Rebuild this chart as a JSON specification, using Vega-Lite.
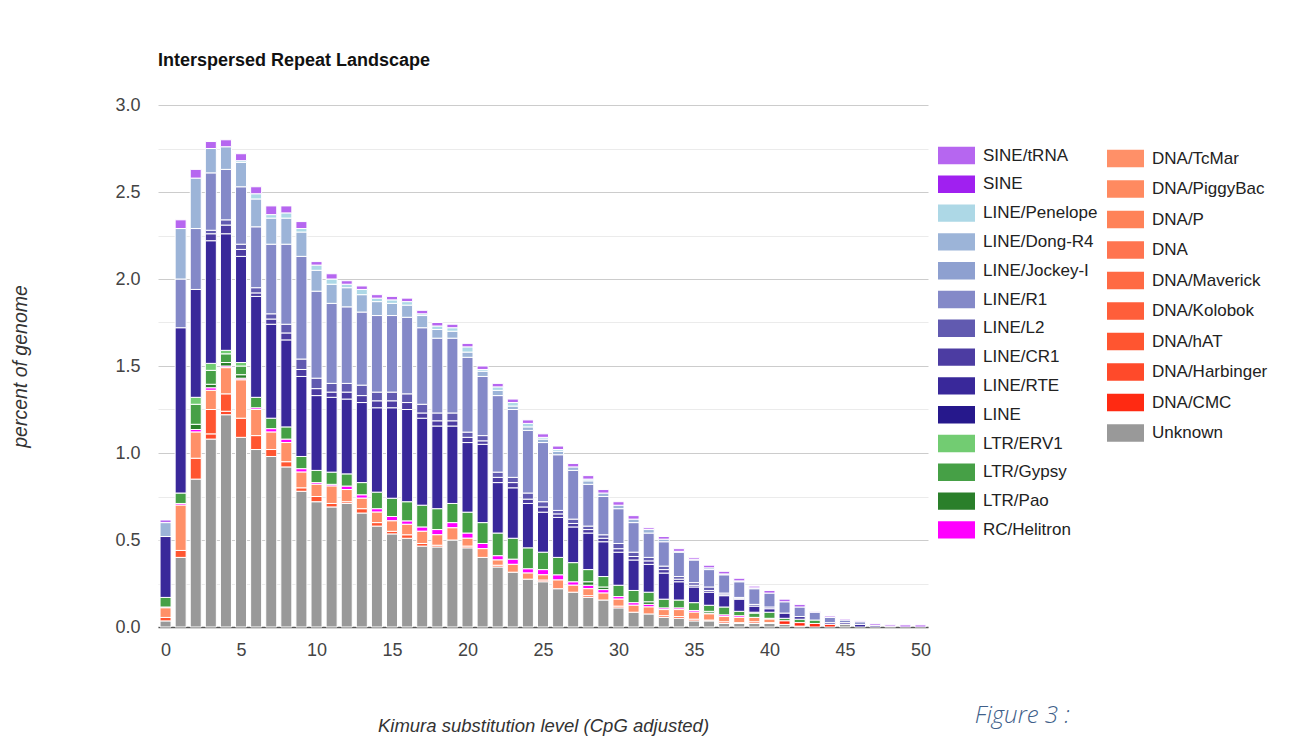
{
  "$schema": "https://vega.github.io/schema/vega-lite/v6.json",
  "width": 770,
  "height": 522,
  "autosize": {"type": "none"},
  "padding": {"left": 158, "top": 105, "right": 388, "bottom": 113},
  "background": "white",
  "config": {"view": {"stroke": null}, "font": "Liberation Sans"},
  "title": {"text": "Interspersed Repeat Landscape", "anchor": "start", "frame": "group", "fontSize": 18, "fontWeight": "bold", "color": "#111111", "offset": 26, "font": "Liberation Sans"},
  "datasets": {
    "landscape": [
      {"x":0,"Unknown":0.035,"DNA/hAT":0.02,"DNA/TcMar":0.055,"RC/Helitron":0.005,"LTR/Gypsy":0.055,"LINE/RTE":0.35,"LINE/Dong-R4":0.08,"SINE/tRNA":0.015},
      {"x":1,"Unknown":0.40,"DNA/hAT":0.04,"DNA/TcMar":0.26,"RC/Helitron":0.01,"LTR/Gypsy":0.06,"LINE/RTE":0.95,"LINE/R1":0.28,"LINE/Dong-R4":0.29,"SINE/tRNA":0.05},
      {"x":2,"Unknown":0.85,"DNA/hAT":0.12,"DNA/TcMar":0.15,"RC/Helitron":0.015,"LTR/Pao":0.03,"LTR/Gypsy":0.115,"LTR/ERV1":0.04,"LINE/RTE":0.62,"LINE/R1":0.35,"LINE/Dong-R4":0.29,"SINE/tRNA":0.05},
      {"x":3,"Unknown":1.08,"DNA/Harbinger":0.03,"DNA/hAT":0.14,"DNA/TcMar":0.11,"RC/Helitron":0.015,"LTR/Pao":0.02,"LTR/Gypsy":0.08,"LTR/ERV1":0.04,"LINE/RTE":0.705,"LINE/CR1":0.04,"LINE/L2":0.02,"LINE/R1":0.33,"LINE/Dong-R4":0.14,"SINE/tRNA":0.04},
      {"x":4,"Unknown":1.22,"DNA/Harbinger":0.02,"DNA/hAT":0.10,"DNA/TcMar":0.15,"RC/Helitron":0.01,"LTR/Pao":0.02,"LTR/Gypsy":0.05,"LTR/ERV1":0.02,"LINE/RTE":0.67,"LINE/CR1":0.05,"LINE/L2":0.03,"LINE/R1":0.29,"LINE/Dong-R4":0.13,"SINE/tRNA":0.04},
      {"x":5,"Unknown":1.09,"DNA/hAT":0.11,"DNA/TcMar":0.22,"RC/Helitron":0.01,"LTR/Pao":0.02,"LTR/Gypsy":0.05,"LTR/ERV1":0.02,"LINE/RTE":0.61,"LINE/CR1":0.04,"LINE/L2":0.03,"LINE/R1":0.33,"LINE/Dong-R4":0.14,"LINE/Penelope":0.01,"SINE/tRNA":0.04},
      {"x":6,"Unknown":1.02,"DNA/hAT":0.08,"DNA/TcMar":0.15,"RC/Helitron":0.01,"LTR/Gypsy":0.06,"LINE/RTE":0.58,"LINE/CR1":0.02,"LINE/L2":0.03,"LINE/R1":0.35,"LINE/Dong-R4":0.16,"LINE/Penelope":0.03,"SINE/tRNA":0.04},
      {"x":7,"Unknown":0.98,"DNA/hAT":0.04,"DNA/TcMar":0.10,"RC/Helitron":0.02,"LTR/Gypsy":0.06,"LINE/RTE":0.54,"LINE/CR1":0.03,"LINE/L2":0.03,"LINE/R1":0.40,"LINE/Dong-R4":0.15,"LINE/Penelope":0.02,"SINE/tRNA":0.05},
      {"x":8,"Unknown":0.92,"DNA/hAT":0.03,"DNA/TcMar":0.11,"RC/Helitron":0.02,"LTR/Gypsy":0.07,"LINE/RTE":0.50,"LINE/CR1":0.04,"LINE/L2":0.05,"LINE/R1":0.46,"LINE/Dong-R4":0.15,"LINE/Penelope":0.03,"SINE/tRNA":0.04},
      {"x":9,"Unknown":0.78,"DNA/hAT":0.02,"DNA/TcMar":0.09,"RC/Helitron":0.02,"LTR/Gypsy":0.07,"LINE/RTE":0.46,"LINE/CR1":0.04,"LINE/L2":0.06,"LINE/R1":0.59,"LINE/Dong-R4":0.14,"LINE/Penelope":0.02,"SINE/tRNA":0.04},
      {"x":10,"Unknown":0.72,"DNA/hAT":0.03,"DNA/TcMar":0.07,"RC/Helitron":0.01,"LTR/Gypsy":0.07,"LINE/RTE":0.43,"LINE/CR1":0.04,"LINE/L2":0.06,"LINE/R1":0.50,"LINE/Dong-R4":0.12,"LINE/Penelope":0.03,"SINE/tRNA":0.02},
      {"x":11,"Unknown":0.69,"DNA/hAT":0.02,"DNA/TcMar":0.10,"RC/Helitron":0.01,"LTR/Gypsy":0.07,"LINE/RTE":0.43,"LINE/CR1":0.03,"LINE/L2":0.05,"LINE/R1":0.46,"LINE/Dong-R4":0.11,"LINE/Penelope":0.03,"SINE/tRNA":0.03},
      {"x":12,"Unknown":0.71,"DNA/hAT":0.01,"DNA/TcMar":0.07,"RC/Helitron":0.02,"LTR/Gypsy":0.07,"LINE/RTE":0.43,"LINE/CR1":0.04,"LINE/L2":0.05,"LINE/R1":0.44,"LINE/Dong-R4":0.11,"LINE/Penelope":0.02,"SINE/tRNA":0.02},
      {"x":13,"Unknown":0.655,"DNA/hAT":0.025,"DNA/TcMar":0.06,"RC/Helitron":0.02,"LTR/Gypsy":0.07,"LINE/RTE":0.46,"LINE/CR1":0.04,"LINE/L2":0.06,"LINE/R1":0.42,"LINE/Dong-R4":0.10,"LINE/Penelope":0.03,"SINE/tRNA":0.02},
      {"x":14,"Unknown":0.58,"DNA/hAT":0.02,"DNA/TcMar":0.06,"RC/Helitron":0.02,"LTR/Gypsy":0.095,"LINE/RTE":0.485,"LINE/CR1":0.04,"LINE/L2":0.05,"LINE/R1":0.44,"LINE/Dong-R4":0.08,"LINE/Penelope":0.02,"SINE/tRNA":0.02},
      {"x":15,"Unknown":0.535,"DNA/hAT":0.015,"DNA/TcMar":0.06,"RC/Helitron":0.025,"LTR/Gypsy":0.105,"LINE/RTE":0.52,"LINE/CR1":0.04,"LINE/L2":0.05,"LINE/R1":0.44,"LINE/Dong-R4":0.07,"LINE/Penelope":0.02,"SINE/tRNA":0.02},
      {"x":16,"Unknown":0.51,"DNA/hAT":0.02,"DNA/TcMar":0.06,"RC/Helitron":0.02,"LTR/Gypsy":0.11,"LINE/RTE":0.53,"LINE/CR1":0.04,"LINE/L2":0.05,"LINE/R1":0.44,"LINE/Dong-R4":0.07,"LINE/Penelope":0.02,"SINE/tRNA":0.02},
      {"x":17,"Unknown":0.465,"DNA/hAT":0.015,"DNA/TcMar":0.07,"RC/Helitron":0.025,"LTR/Gypsy":0.125,"LINE/RTE":0.50,"LINE/CR1":0.03,"LINE/L2":0.05,"LINE/R1":0.44,"LINE/Dong-R4":0.07,"LINE/Penelope":0.01,"SINE/tRNA":0.02},
      {"x":18,"Unknown":0.46,"DNA/hAT":0.01,"DNA/TcMar":0.06,"RC/Helitron":0.03,"LTR/Gypsy":0.12,"LINE/RTE":0.475,"LINE/CR1":0.03,"LINE/L2":0.045,"LINE/R1":0.43,"LINE/Dong-R4":0.05,"LINE/Penelope":0.02,"SINE/tRNA":0.02},
      {"x":19,"Unknown":0.50,"DNA/TcMar":0.07,"RC/Helitron":0.03,"LTR/Gypsy":0.11,"LINE/RTE":0.445,"LINE/CR1":0.03,"LINE/L2":0.045,"LINE/R1":0.43,"LINE/Dong-R4":0.04,"LINE/Penelope":0.02,"SINE/tRNA":0.02},
      {"x":20,"Unknown":0.455,"DNA/hAT":0.01,"DNA/TcMar":0.045,"RC/Helitron":0.03,"LTR/Gypsy":0.12,"LINE/RTE":0.40,"LINE/CR1":0.03,"LINE/L2":0.03,"LINE/R1":0.43,"LINE/Dong-R4":0.03,"LINE/Penelope":0.03,"SINE/tRNA":0.02},
      {"x":21,"Unknown":0.40,"DNA/TcMar":0.05,"RC/Helitron":0.03,"LTR/Gypsy":0.12,"LINE/RTE":0.45,"LINE/CR1":0.02,"LINE/L2":0.03,"LINE/R1":0.34,"LINE/Dong-R4":0.03,"LINE/Penelope":0.01,"SINE/tRNA":0.02},
      {"x":22,"Unknown":0.345,"DNA/hAT":0.01,"DNA/TcMar":0.03,"RC/Helitron":0.025,"LTR/Gypsy":0.13,"LINE/RTE":0.29,"LINE/CR1":0.03,"LINE/L2":0.03,"LINE/R1":0.44,"LINE/Dong-R4":0.03,"LINE/Penelope":0.02,"SINE/tRNA":0.02},
      {"x":23,"Unknown":0.315,"DNA/TcMar":0.045,"RC/Helitron":0.03,"LTR/Gypsy":0.12,"LINE/RTE":0.29,"LINE/CR1":0.03,"LINE/L2":0.03,"LINE/R1":0.39,"LINE/Dong-R4":0.02,"LINE/Penelope":0.02,"SINE/tRNA":0.02},
      {"x":24,"Unknown":0.275,"DNA/TcMar":0.035,"RC/Helitron":0.025,"LTR/Gypsy":0.12,"LINE/RTE":0.255,"LINE/CR1":0.025,"LINE/L2":0.035,"LINE/R1":0.36,"LINE/Dong-R4":0.02,"LINE/Penelope":0.02,"SINE/tRNA":0.02},
      {"x":25,"Unknown":0.26,"DNA/hAT":0.01,"DNA/TcMar":0.03,"RC/Helitron":0.03,"LTR/Gypsy":0.10,"LINE/RTE":0.23,"LINE/CR1":0.03,"LINE/L2":0.03,"LINE/R1":0.34,"LINE/Dong-R4":0.02,"LINE/Penelope":0.01,"SINE/tRNA":0.02},
      {"x":26,"Unknown":0.22,"DNA/TcMar":0.05,"RC/Helitron":0.03,"LTR/Gypsy":0.10,"LINE/RTE":0.23,"LINE/CR1":0.02,"LINE/L2":0.02,"LINE/R1":0.32,"LINE/Dong-R4":0.02,"LINE/Penelope":0.01,"SINE/tRNA":0.02},
      {"x":27,"Unknown":0.20,"DNA/TcMar":0.04,"RC/Helitron":0.02,"LTR/Gypsy":0.11,"LINE/RTE":0.205,"LINE/CR1":0.02,"LINE/L2":0.025,"LINE/R1":0.28,"LINE/Dong-R4":0.02,"SINE/tRNA":0.02},
      {"x":28,"Unknown":0.17,"DNA/hAT":0.01,"DNA/TcMar":0.04,"RC/Helitron":0.02,"LTR/Pao":0.02,"LTR/Gypsy":0.07,"LINE/RTE":0.21,"LINE/CR1":0.02,"LINE/L2":0.02,"LINE/R1":0.24,"LINE/Dong-R4":0.02,"LINE/Penelope":0.01,"SINE/tRNA":0.02},
      {"x":29,"Unknown":0.155,"DNA/TcMar":0.04,"RC/Helitron":0.02,"LTR/Pao":0.015,"LTR/Gypsy":0.06,"LINE/RTE":0.20,"LINE/CR1":0.02,"LINE/L2":0.02,"LINE/R1":0.22,"LINE/Dong-R4":0.02,"SINE/tRNA":0.02},
      {"x":30,"Unknown":0.11,"DNA/hAT":0.01,"DNA/TcMar":0.04,"RC/Helitron":0.015,"LTR/Gypsy":0.065,"LINE/RTE":0.19,"LINE/CR1":0.02,"LINE/L2":0.03,"LINE/R1":0.20,"LINE/Dong-R4":0.02,"SINE/tRNA":0.02},
      {"x":31,"Unknown":0.085,"DNA/TcMar":0.04,"RC/Helitron":0.015,"LTR/Gypsy":0.07,"LINE/RTE":0.175,"LINE/CR1":0.02,"LINE/L2":0.025,"LINE/R1":0.17,"LINE/Dong-R4":0.02,"SINE/tRNA":0.02},
      {"x":32,"Unknown":0.075,"DNA/TcMar":0.04,"RC/Helitron":0.015,"LTR/Pao":0.015,"LTR/Gypsy":0.055,"LINE/RTE":0.16,"LINE/CR1":0.02,"LINE/L2":0.02,"LINE/R1":0.14,"LINE/Dong-R4":0.02,"SINE/tRNA":0.01},
      {"x":33,"Unknown":0.055,"DNA/hAT":0.01,"DNA/TcMar":0.035,"RC/Helitron":0.01,"LTR/Gypsy":0.05,"LINE/RTE":0.15,"LINE/CR1":0.02,"LINE/L2":0.02,"LINE/R1":0.14,"LINE/Dong-R4":0.015,"SINE/tRNA":0.015},
      {"x":34,"Unknown":0.05,"DNA/hAT":0.01,"DNA/TcMar":0.04,"RC/Helitron":0.01,"LTR/Gypsy":0.045,"LINE/RTE":0.105,"LINE/CR1":0.015,"LINE/L2":0.015,"LINE/R1":0.14,"LINE/Dong-R4":0.005,"SINE/tRNA":0.015},
      {"x":35,"Unknown":0.035,"DNA/hAT":0.01,"DNA/TcMar":0.04,"RC/Helitron":0.01,"LTR/Gypsy":0.045,"LINE/RTE":0.09,"LINE/CR1":0.01,"LINE/L2":0.015,"LINE/R1":0.13,"LINE/Dong-R4":0.005,"SINE/tRNA":0.01},
      {"x":36,"Unknown":0.035,"DNA/hAT":0.005,"DNA/TcMar":0.035,"RC/Helitron":0.005,"LTR/Pao":0.01,"LTR/Gypsy":0.035,"LINE/RTE":0.075,"LINE/CR1":0.01,"LINE/L2":0.02,"LINE/R1":0.10,"LINE/Dong-R4":0.01,"SINE/tRNA":0.015},
      {"x":37,"Unknown":0.02,"DNA/hAT":0.01,"DNA/TcMar":0.03,"RC/Helitron":0.01,"LTR/Gypsy":0.045,"LINE/RTE":0.065,"LINE/CR1":0.005,"LINE/L2":0.01,"LINE/R1":0.105,"LINE/Dong-R4":0.005,"SINE/tRNA":0.015},
      {"x":38,"Unknown":0.02,"DNA/hAT":0.005,"DNA/TcMar":0.03,"RC/Helitron":0.01,"LTR/Gypsy":0.025,"LINE/RTE":0.07,"LINE/CR1":0.005,"LINE/L2":0.005,"LINE/R1":0.09,"LINE/Dong-R4":0.005,"SINE/tRNA":0.015},
      {"x":39,"Unknown":0.02,"DNA/hAT":0.01,"DNA/TcMar":0.025,"LTR/Gypsy":0.025,"LTR/ERV1":0.005,"LINE/RTE":0.035,"LINE/L2":0.01,"LINE/R1":0.09,"LINE/Dong-R4":0.005,"SINE/tRNA":0.01},
      {"x":40,"Unknown":0.02,"DNA/CMC":0.005,"DNA/TcMar":0.02,"RC/Helitron":0.005,"LTR/Gypsy":0.035,"LINE/RTE":0.02,"LINE/L2":0.01,"LINE/R1":0.08,"SINE/tRNA":0.015},
      {"x":41,"Unknown":0.015,"DNA/CMC":0.02,"LTR/Gypsy":0.015,"LINE/RTE":0.03,"LINE/R1":0.065,"SINE/tRNA":0.015},
      {"x":42,"Unknown":0.005,"DNA/CMC":0.02,"LTR/Gypsy":0.02,"LINE/RTE":0.015,"LINE/R1":0.055,"SINE/tRNA":0.015},
      {"x":43,"DNA/CMC":0.02,"LTR/Gypsy":0.02,"LINE/R1":0.045,"SINE/tRNA":0.005},
      {"x":44,"DNA/CMC":0.015,"LINE/RTE":0.01,"LINE/R1":0.03,"SINE/tRNA":0.008},
      {"x":45,"Unknown":0.015,"LINE/RTE":0.01,"LINE/R1":0.015,"SINE/tRNA":0.006},
      {"x":46,"LINE/RTE":0.015,"LINE/R1":0.015,"SINE/tRNA":0.005},
      {"x":47,"LINE/RTE":0.008,"SINE/tRNA":0.01},
      {"x":48,"SINE":0.005,"SINE/tRNA":0.008},
      {"x":49,"SINE/tRNA":0.012},
      {"x":50,"SINE/tRNA":0.012}
    ],
    "caption": [{"t": "Figure 3 :"}]
  },
  "layer": [
    {
      "data": {"name": "landscape"},
      "transform": [
        {"fold": ["Unknown","DNA/CMC","DNA/Harbinger","DNA/hAT","DNA/Kolobok","DNA/Maverick","DNA","DNA/P","DNA/PiggyBac","DNA/TcMar","RC/Helitron","LTR/Pao","LTR/Gypsy","LTR/ERV1","LINE","LINE/RTE","LINE/CR1","LINE/L2","LINE/R1","LINE/Jockey-I","LINE/Dong-R4","LINE/Penelope","SINE","SINE/tRNA"], "as": ["cat", "val"]},
        {"filter": {"field": "val", "gt": 0}},
        {"stack": "val", "groupby": ["x"], "as": ["y0", "y1"]},
        {"filter": {"field": "cat", "oneOf": ["SINE/tRNA","SINE","LINE/Penelope","LINE/Dong-R4","LINE/Jockey-I","LINE/R1","LINE/L2","LINE/CR1","LINE/RTE","LINE","LTR/ERV1","LTR/Gypsy","LTR/Pao","RC/Helitron"]}}
      ],
      "mark": {"type": "bar", "width": 11, "stroke": "white", "strokeWidth": 1},
      "encoding": {
        "x": {"field": "x", "type": "quantitative", "scale": {"domain": [-0.5, 50.5], "nice": false, "zero": false, "padding": 0},
          "axis": {"values": [0,5,10,15,20,25,30,35,40,45,50], "format": "d", "ticks": false, "grid": false, "domain": true, "domainColor": "#555555", "domainWidth": 1.5, "labelFontSize": 18, "labelColor": "#444444", "labelPadding": 14, "labelFont": "Liberation Sans", "title": "Kimura substitution level (CpG adjusted)", "titleFont": "Liberation Sans", "titleFontStyle": "italic", "titleFontWeight": "normal", "titleFontSize": 18.5, "titleColor": "#333333", "titlePadding": 57}},
        "y": {"field": "y1", "type": "quantitative", "scale": {"domain": [0, 3], "nice": false, "padding": 0},
          "axis": {"values": [0,0.25,0.5,0.75,1,1.25,1.5,1.75,2,2.25,2.5,2.75,3], "labelExpr": "datum.value % 0.5 === 0 ? format(datum.value, '.1f') : ''", "grid": true, "gridColor": {"condition": {"test": "datum.value % 0.5 === 0", "value": "#cccccc"}, "value": "#ebebeb"}, "domain": false, "ticks": false, "labelFontSize": 18, "labelColor": "#444444", "labelPadding": 18, "labelFont": "Liberation Sans", "title": "percent of genome", "titleFont": "Liberation Sans", "titleFontStyle": "italic", "titleFontWeight": "normal", "titleFontSize": 19.5, "titleColor": "#333333", "titlePadding": 84}},
        "y2": {"field": "y0"},
        "color": {"field": "cat", "type": "nominal",
          "scale": {"domain": ["SINE/tRNA","SINE","LINE/Penelope","LINE/Dong-R4","LINE/Jockey-I","LINE/R1","LINE/L2","LINE/CR1","LINE/RTE","LINE","LTR/ERV1","LTR/Gypsy","LTR/Pao","RC/Helitron"],
                    "range": ["#b666f0","#a020f0","#add8e6","#9cb4d8","#8ea0d0","#8489c8","#615ab0","#4c3ca2","#39289a","#26188c","#72cc72","#46a046","#2a7f2a","#ff00ff"]},
          "legend": {"title": null, "orient": "none", "legendX": 780, "legendY": 32, "padding": 0, "symbolType": "M-1,-0.47L1,-0.47L1,0.47L-1,0.47Z", "symbolSize": 1369, "symbolStrokeWidth": 0, "symbolOpacity": 1, "labelFontSize": 17, "labelColor": "#222222", "labelFont": "Liberation Sans", "labelOffset": 8, "rowPadding": 0.8, "labelLimit": 250}}
      }
    },
    {
      "data": {"name": "landscape"},
      "transform": [
        {"fold": ["Unknown","DNA/CMC","DNA/Harbinger","DNA/hAT","DNA/Kolobok","DNA/Maverick","DNA","DNA/P","DNA/PiggyBac","DNA/TcMar","RC/Helitron","LTR/Pao","LTR/Gypsy","LTR/ERV1","LINE","LINE/RTE","LINE/CR1","LINE/L2","LINE/R1","LINE/Jockey-I","LINE/Dong-R4","LINE/Penelope","SINE","SINE/tRNA"], "as": ["cat", "val"]},
        {"filter": {"field": "val", "gt": 0}},
        {"stack": "val", "groupby": ["x"], "as": ["y0", "y1"]},
        {"filter": {"field": "cat", "oneOf": ["DNA/TcMar","DNA/PiggyBac","DNA/P","DNA","DNA/Maverick","DNA/Kolobok","DNA/hAT","DNA/Harbinger","DNA/CMC","Unknown"]}}
      ],
      "mark": {"type": "bar", "width": 11, "stroke": "white", "strokeWidth": 1},
      "encoding": {
        "x": {"field": "x", "type": "quantitative", "scale": {"domain": [-0.5, 50.5], "nice": false, "zero": false, "padding": 0}},
        "y": {"field": "y1", "type": "quantitative", "scale": {"domain": [0, 3], "nice": false, "padding": 0}},
        "y2": {"field": "y0"},
        "color": {"field": "cat", "type": "nominal",
          "scale": {"domain": ["DNA/TcMar","DNA/PiggyBac","DNA/P","DNA","DNA/Maverick","DNA/Kolobok","DNA/hAT","DNA/Harbinger","DNA/CMC","Unknown"],
                    "range": ["#ff9068","#ff8a60","#ff8258","#ff7450","#ff6a44","#ff5e3a","#ff5530","#ff4a2a","#ff2a12","#999999"]},
          "legend": {"title": null, "orient": "none", "legendX": 949, "legendY": 35, "padding": 0, "symbolType": "M-1,-0.47L1,-0.47L1,0.47L-1,0.47Z", "symbolSize": 1369, "symbolStrokeWidth": 0, "symbolOpacity": 1, "labelFontSize": 17, "labelColor": "#222222", "labelFont": "Liberation Sans", "labelOffset": 8, "rowPadding": 2.5, "labelLimit": 250}}
      }
    },
    {
      "data": {"name": "caption"},
      "mark": {"type": "text", "align": "left", "baseline": "middle", "font": "Open Sans", "fontStyle": "italic", "fontWeight": 300, "fontSize": 24, "color": "#3f5f8a"},
      "encoding": {
        "x": {"datum": 53.6, "type": "quantitative"},
        "y": {"datum": -0.51, "type": "quantitative"},
        "text": {"field": "t"}
      }
    }
  ],
  "resolve": {"scale": {"color": "independent"}, "legend": {"color": "independent"}}
}
